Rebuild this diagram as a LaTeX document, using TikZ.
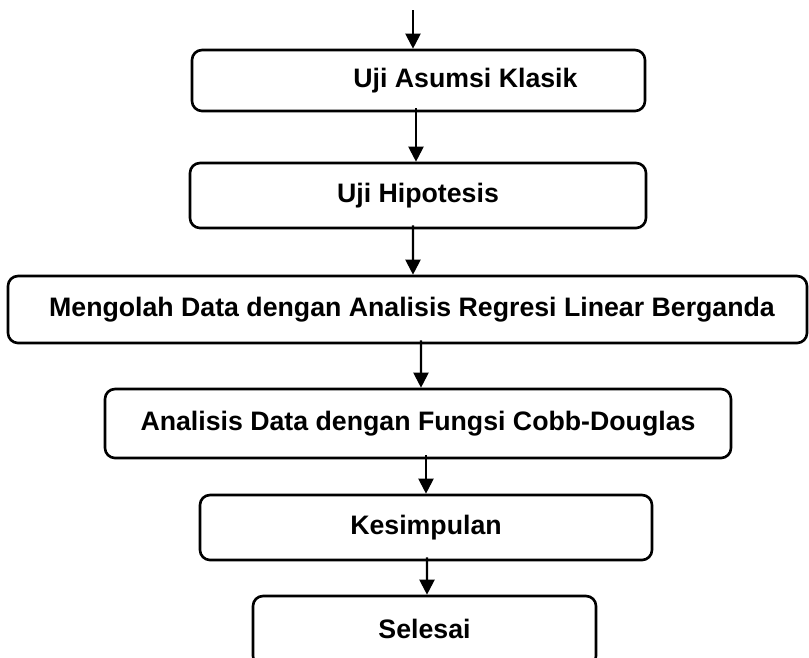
\documentclass[tikz,border=0pt]{standalone}
\usepackage{fontspec}
\setmainfont{Liberation Sans}
\usetikzlibrary{arrows.meta}
\newcommand{\pxu}{0.02cm}
\tikzset{
  stepbox/.style={draw,line width=1.5pt,rounded corners=0.2cm,inner sep=0pt,
    font=\fontsize{15.2}{18}\selectfont\bfseries},
  flow/.style={->,line width=1.2pt}
}
\begin{document}
\begin{tikzpicture}[x=0.02cm,y=-0.02cm,>={Triangle[length=0.3cm,width=0.3cm]}]
  \useasboundingbox (0,0) rectangle (809,657);
  \clip (0,0) rectangle (809,657);
  \coordinate (start) at (413,10);
  \node[stepbox,minimum width=453*\pxu,minimum height=61*\pxu] (b1) at (418.5,80.5)
    {\hspace*{1.88cm}Uji Asumsi Klasik};
  \node[stepbox,minimum width=456*\pxu,minimum height=65*\pxu] (b2) at (418,195.5)
    {Uji Hipotesis};
  \node[stepbox,minimum width=799*\pxu,minimum height=67*\pxu] (b3) at (407.5,309.5)
    {\hspace*{0.18cm}Mengolah Data dengan Analisis Regresi Linear Berganda};
  \node[stepbox,minimum width=626*\pxu,minimum height=69*\pxu] (b4) at (418,423.5)
    {Analisis Data dengan Fungsi Cobb-Douglas};
  \node[stepbox,minimum width=452*\pxu,minimum height=65*\pxu] (b5) at (426,527.5)
    {Kesimpulan};
  \node[stepbox,minimum width=343*\pxu,minimum height=70*\pxu] (b6) at (424.5,631)
    {\raisebox{0.08cm}{Selesai}};
  \draw[flow] (start) -- ([xshift=-5.5*\pxu]b1.north);
  \foreach \u/\v/\s/\e in {b1/b2/-2.5/-2,b2/b3/-5/5.5,b3/b4/13.5/3,b4/b5/8/0,b5/b6/1/2.5}
    \draw[flow] ([xshift=\s*\pxu,yshift=4*\pxu]\u.south) -- ([xshift=\e*\pxu]\v.north);
\end{tikzpicture}
\end{document}
